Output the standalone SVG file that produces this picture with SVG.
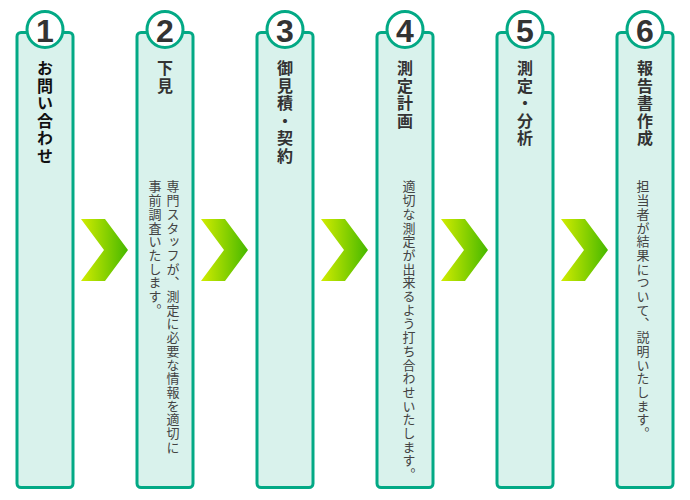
<svg xmlns="http://www.w3.org/2000/svg" width="690" height="500" viewBox="0 0 690 500">
<defs>
<linearGradient id="ag" x1="0" y1="0" x2="1" y2="0">
<stop offset="0" stop-color="#d2ec00"/>
<stop offset="1" stop-color="#46b800"/>
</linearGradient>
<path id="chev" d="M0,0 L24,0 L47,31 L24,62 L0,62 L23,31 Z"/>
</defs>
<style>
.box{fill:#d9f2ec;stroke:#03a985;stroke-width:3}
.num-c{fill:#fff;stroke:#03a985;stroke-width:3}
.num{font-family:"Liberation Sans",Arial,sans-serif;font-weight:bold;font-size:32px;fill:#333;text-anchor:middle}
.ttl{font-family:"Noto Sans CJK JP",sans-serif;font-weight:bold;font-size:16px;fill:#333;writing-mode:vertical-rl;letter-spacing:1.5px}
.dsc{font-family:"Noto Sans CJK JP",sans-serif;font-size:13px;fill:#444;writing-mode:vertical-rl;letter-spacing:0.7px}
</style>
<rect width="690" height="500" fill="#fff"/>
<g id="connectors">
<use href="#chev" x="81" y="219" fill="url(#ag)"/>
<use href="#chev" x="201" y="219" fill="url(#ag)"/>
<use href="#chev" x="321" y="219" fill="url(#ag)"/>
<use href="#chev" x="441" y="219" fill="url(#ag)"/>
<use href="#chev" x="561" y="219" fill="url(#ag)"/>
</g>
<g id="step1">
<rect class="box" x="17" y="32.5" width="56" height="455" rx="4"/>
<circle class="num-c" cx="45" cy="29.5" r="18"/>
<text class="num" x="45" y="42">1</text>
<text class="ttl" x="45" y="60" style="fill:#111">お問い合わせ</text>
</g>
<g id="step2">
<rect class="box" x="137" y="32.5" width="56" height="455" rx="4"/>
<circle class="num-c" cx="165" cy="29.5" r="18"/>
<text class="num" x="165" y="42">2</text>
<text class="ttl" x="165" y="60">下見</text>
<text class="dsc" x="173" y="180">専門スタッフが、測定に必要な情報を適切に</text>
<text class="dsc" x="155" y="180">事前調査いたします。</text>
</g>
<g id="step3">
<rect class="box" x="257" y="32.5" width="56" height="455" rx="4"/>
<circle class="num-c" cx="285" cy="29.5" r="18"/>
<text class="num" x="285" y="42">3</text>
<text class="ttl" x="285" y="60">御見積・契約</text>
</g>
<g id="step4">
<rect class="box" x="377" y="32.5" width="56" height="455" rx="4"/>
<circle class="num-c" cx="405" cy="29.5" r="18"/>
<text class="num" x="405" y="42">4</text>
<text class="ttl" x="405" y="60">測定計画</text>
<text class="dsc" x="409" y="180">適切な測定が出来るよう打ち合わせいたします。</text>
</g>
<g id="step5">
<rect class="box" x="497" y="32.5" width="56" height="455" rx="4"/>
<circle class="num-c" cx="525" cy="29.5" r="18"/>
<text class="num" x="525" y="42">5</text>
<text class="ttl" x="525" y="60">測定・分析</text>
</g>
<g id="step6">
<rect class="box" x="617" y="32.5" width="56" height="455" rx="4"/>
<circle class="num-c" cx="645" cy="29.5" r="18"/>
<text class="num" x="645" y="42">6</text>
<text class="ttl" x="645" y="60">報告書作成</text>
<text class="dsc" x="643" y="180">担当者が結果について、説明いたします。</text>
</g>
</svg>
